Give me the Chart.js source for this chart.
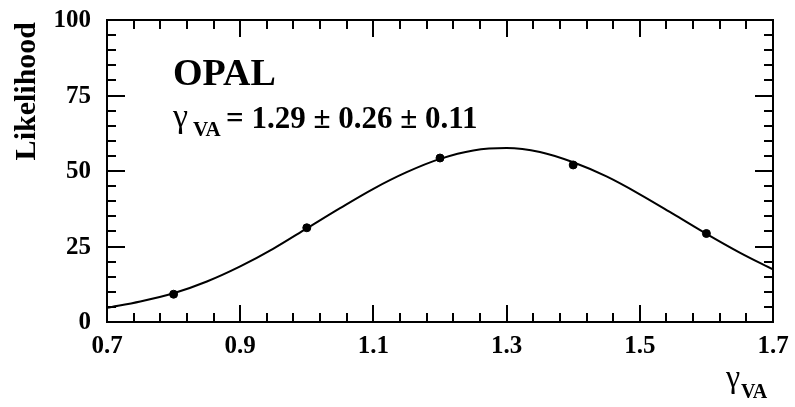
<!DOCTYPE html>
<html>
<head>
<meta charset="utf-8">
<script src="https://cdn.jsdelivr.net/npm/chart.js@4/dist/chart.umd.min.js"></script>
<style>
  html, body { margin: 0; padding: 0; background: #fff; }
</style>
</head>
<body>
<canvas id="likechart" width="795" height="407"></canvas>
<script>
// measured likelihood points
const pointX = [0.8, 1.0, 1.2, 1.4, 1.6];
const pointY = [9.2, 31.2, 54.3, 52.0, 29.3];

// fitted curve
const curveX = [0.70, 0.75, 0.80, 0.85, 0.90, 0.95, 1.00, 1.05, 1.10, 1.15, 1.20,
                1.25, 1.30, 1.35, 1.40, 1.45, 1.50, 1.55, 1.60, 1.65, 1.70];
const curveY = [4.7, 6.8, 9.5, 13.4, 18.4, 24.3, 31.0, 37.7, 44.1, 49.6, 54.0,
                56.8, 57.6, 56.3, 52.9, 48.2, 42.3, 35.8, 29.2, 23.0, 17.4];

// axis labels
const xTicks = [0.7, 0.9, 1.1, 1.3, 1.5, 1.7];
const yTicks = [0, 25, 50, 75, 100];

const FONT = '"Liberation Serif", "Times New Roman", serif';

function toXY(xs, ys) {
  return xs.map((v, i) => ({ x: v, y: ys[i] }));
}

// frame, inside ticks and all text (ROOT style)
const framePlugin = {
  id: 'frame',
  afterDraw(chart) {
    const { ctx, chartArea: a, scales } = chart;
    const x = scales.x, y = scales.y;
    ctx.save();
    ctx.strokeStyle = '#000';
    ctx.fillStyle = '#000';
    ctx.lineWidth = 2;
    ctx.strokeRect(a.left, a.top, a.right - a.left, a.bottom - a.top);

    ctx.beginPath();
    // x ticks: major every 0.2, 5 divisions
    const nx = (xTicks.length - 1) * 5;
    for (let i = 0; i <= nx; i++) {
      const v = xTicks[0] + (xTicks[1] - xTicks[0]) * i / 5;
      const px = Math.round(x.getPixelForValue(v));
      const len = i % 5 === 0 ? 17 : 9;
      ctx.moveTo(px, a.bottom); ctx.lineTo(px, a.bottom - len);
      ctx.moveTo(px, a.top); ctx.lineTo(px, a.top + len);
    }
    // y ticks: major every 25, 5 divisions
    const ny = (yTicks.length - 1) * 5;
    for (let i = 0; i <= ny; i++) {
      const v = yTicks[0] + (yTicks[1] - yTicks[0]) * i / 5;
      const py = Math.round(y.getPixelForValue(v));
      const len = i % 5 === 0 ? 18 : 9;
      ctx.moveTo(a.left, py); ctx.lineTo(a.left + len, py);
      ctx.moveTo(a.right, py); ctx.lineTo(a.right - len, py);
    }
    ctx.stroke();

    // tick labels
    ctx.font = 'bold 25px ' + FONT;
    ctx.textAlign = 'right';
    ctx.textBaseline = 'middle';
    yTicks.forEach(v => ctx.fillText(String(v), a.left - 16, y.getPixelForValue(v) + 1));
    ctx.textAlign = 'center';
    ctx.textBaseline = 'alphabetic';
    xTicks.forEach(v => ctx.fillText(v.toFixed(1), x.getPixelForValue(v), a.bottom + 31));

    // y title
    ctx.save();
    ctx.translate(35, a.top + 2);
    ctx.rotate(-Math.PI / 2);
    ctx.font = 'bold 30px ' + FONT;
    ctx.textAlign = 'right';
    ctx.fillText('Likelihood', 0, 0);
    ctx.restore();

    // x title
    ctx.textAlign = 'left';
    ctx.font = '32px ' + FONT;
    ctx.fillText('γ', 726, 387);
    ctx.font = 'bold 20px ' + FONT;
    ctx.fillText('VA', 741, 398);

    // labels in the frame
    ctx.font = 'bold 38px ' + FONT;
    ctx.fillText('OPAL', 173, 85);
    ctx.font = '34px ' + FONT;
    ctx.fillText('γ', 173, 127);
    ctx.font = 'bold 21px ' + FONT;
    ctx.fillText('VA', 193, 136);
    ctx.font = 'bold 31px ' + FONT;
    ctx.fillText('= 1.29 ± 0.26 ± 0.11', 226, 128);
    ctx.restore();
  }
};

new Chart(document.getElementById('likechart'), {
  type: 'scatter',
  data: {
    datasets: [
      {
        label: 'data',
        data: toXY(pointX, pointY),
        backgroundColor: '#000',
        borderColor: '#000',
        pointRadius: 4,
        order: 0
      },
      {
        label: 'fit',
        data: toXY(curveX, curveY),
        showLine: true,
        borderColor: '#000',
        borderWidth: 2,
        pointRadius: 0,
        cubicInterpolationMode: 'monotone',
        order: 1
      }
    ]
  },
  options: {
    responsive: false,
    devicePixelRatio: 1,
    animation: false,
    layout: { padding: { left: 107, top: 20, right: 22, bottom: 85 } },
    scales: {
      x: { type: 'linear', min: 0.7, max: 1.7, display: false },
      y: { type: 'linear', min: 0, max: 100, display: false }
    },
    plugins: {
      legend: { display: false },
      tooltip: { enabled: false }
    }
  },
  plugins: [framePlugin]
});
</script>
</body>
</html>
